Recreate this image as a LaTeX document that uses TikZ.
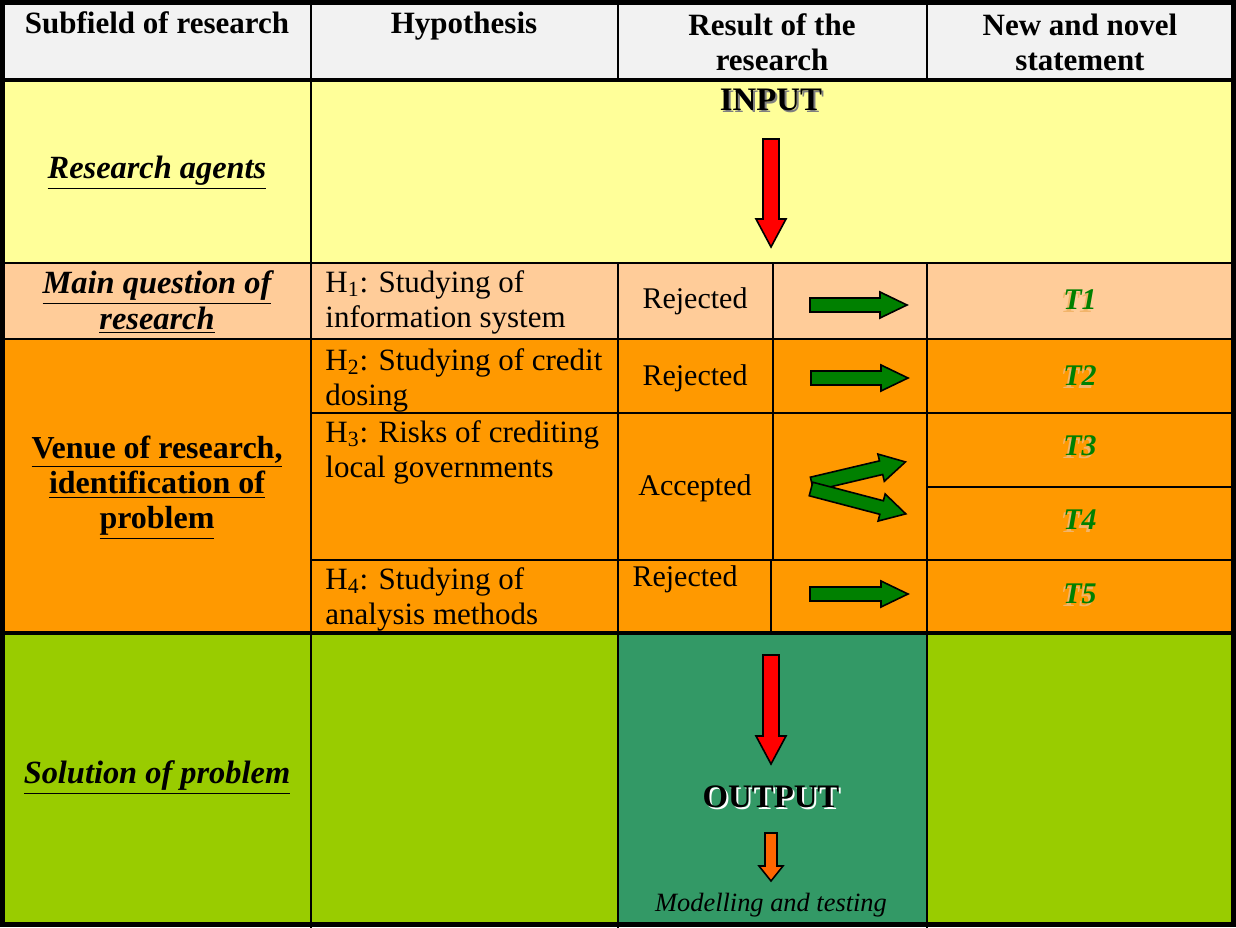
\documentclass[tikz,border=0pt]{standalone}
\usepackage{fontspec}
\setmainfont{Liberation Serif}
\usetikzlibrary{calc}

\definecolor{hdrgray}{HTML}{F2F2F2}
\definecolor{paleyellow}{HTML}{FFFF99}
\definecolor{peach}{HTML}{FFCC99}
\definecolor{amber}{HTML}{FF9900}
\definecolor{lime}{HTML}{99CC00}
\definecolor{seagreen}{HTML}{339966}
\definecolor{darkgreen}{HTML}{008000}
\definecolor{brightred}{HTML}{FF0000}
\definecolor{deeporange}{HTML}{FF6600}
\definecolor{tshade}{HTML}{F2B46A}

\newcommand\ul[1]{\underline{#1}}

\tikzset{
  gridline/.style={line width=1pt, line cap=rect},
  heavyline/.style={line width=2pt},
  headtext/.style={font=\fontsize{15.5}{17.5}\selectfont\bfseries, align=center, inner sep=0pt},
  bodytext/.style={font=\fontsize{15.5}{17.5}\selectfont, align=left, anchor=base west, inner sep=0pt},
  resulttext/.style={font=\fontsize{15}{17.5}\selectfont, inner sep=0pt},
  sidetext/.style={font=\fontsize{16.2}{18}\selectfont\bfseries\itshape, align=center, inner sep=0pt},
  venuetext/.style={font=\fontsize{16}{17.5}\selectfont\bfseries, align=center, inner sep=0pt},
  ttext/.style={font=\fontsize{15}{18}\selectfont\bfseries\itshape, text=darkgreen, inner sep=0pt},
  tshadowtext/.style={font=\fontsize{15}{18}\selectfont\bfseries\itshape, text=tshade, inner sep=0pt},
  bigtext/.style={font=\fontsize{16.4}{18}\selectfont\bfseries, inner sep=0pt},
  pics/blockarrow/.style n args={5}{code={
    % length, shaft half width, head half width, head length, fill
    \draw[fill=#5, line width=0.8pt, line join=miter]
      (0,-#2) -- ({#1-#4},-#2) -- ({#1-#4},-#3) -- (#1,0)
      -- ({#1-#4},#3) -- ({#1-#4},#2) -- (0,#2) -- cycle;
  }},
}

\begin{document}
\begin{tikzpicture}[x=0.5pt, y=-0.5pt]
  \useasboundingbox (0,0) rectangle (1236,927);

  % row backgrounds
  \fill[hdrgray]    (0,0)   rectangle (1236,80);
  \fill[paleyellow] (0,80)  rectangle (1236,263);
  \fill[peach]      (0,263) rectangle (1236,339);
  \fill[amber]      (0,339) rectangle (1236,633);
  \fill[lime]       (0,633) rectangle (1236,927);
  \fill[seagreen]   (618,633) rectangle (927,927);

  % inner grid
  \draw[gridline] (311,0) -- (311,927);
  \draw[gridline] (618,0) -- (618,80);
  \draw[gridline] (927,0) -- (927,80);
  \draw[gridline] (618,263) -- (618,927);
  \draw[gridline] (927,263) -- (927,927);
  \draw[gridline] (773,263) -- (773,560);
  \draw[gridline] (771,560) -- (771,633);
  \draw[gridline] (0,263) -- (1236,263);
  \draw[gridline] (0,339) -- (1236,339);
  \draw[gridline] (311,413) -- (1236,413);
  \draw[gridline] (927,487) -- (1236,487);
  \draw[gridline] (311,560) -- (1236,560);
  \draw[heavyline] (0,80) -- (1236,80);
  \draw[heavyline] (0,633) -- (1236,633);
  % outer frame
  \draw[line width=2.5pt] (2.5,2.5) rectangle (1233.5,924.5);

  % header (anchored at the baseline of the last line)
  \node[headtext, anchor=base] (hsub) at (157,33) {Subfield of research};
  \node[headtext, anchor=base] (hhyp) at (464,33) {Hypothesis};
  \node[headtext, anchor=base] (hres) at (772,70) {Result of the\\research};
  \node[headtext, anchor=base] (hnew) at (1080,70) {New and novel\\statement};

  % left column
  \node[sidetext] (agents) at (157,173) {\ul{Research agents}};
  \node[sidetext] (mainq) at (157,302) {\ul{Main question of}\\\ul{research}};
  \node[venuetext] (venue) at (157,488) {\ul{Venue of research,}\\\ul{identification of}\\\ul{problem}};
  \node[sidetext] (solution) at (157,778) {\ul{Solution of problem}};

  % hypotheses (anchored at the baseline of the second line)
  \node[bodytext] (h1) at (325,327) {H\textsubscript{1}: Studying of\\information system};
  \node[bodytext] (h2) at (325,405) {H\textsubscript{2}: Studying of credit\\dosing};
  \node[bodytext] (h3) at (325,477) {H\textsubscript{3}: Risks of crediting\\local governments};
  \node[bodytext] (h4) at (325,624) {H\textsubscript{4}: Studying of\\analysis methods};

  % results
  \node[resulttext] (r1) at (695,301) {Rejected};
  \node[resulttext] (r2) at (695,378) {Rejected};
  \node[resulttext] (r3) at (695,488) {Accepted};
  \node[resulttext] (r4) at (685,579) {Rejected};

  % statements
  \foreach \name/\lab/\yy in {t1/T1/300, t2/T2/376, t3/T3/446, t4/T4/520, t5/T5/594} {
    \node[tshadowtext] (\name s) at (1077.5,\yy+2.5) {\lab};
    \node[ttext] (\name) at (1080,\yy) {\lab};
  }

  % result arrows
  \pic at (810,305) {blockarrow={97}{7}{13}{27}{darkgreen}};
  \pic at (811,378) {blockarrow={97}{7}{13}{27}{darkgreen}};
  \pic at (810,594) {blockarrow={98}{7}{13}{27}{darkgreen}};
  \pic[rotate=13.3] at (812,484) {blockarrow={96}{7}{14}{25}{darkgreen}};
  \pic[rotate=-14.7] at (811,489) {blockarrow={98}{7}{14}{25}{darkgreen}};

  % input / output flow
  \node[bigtext, text=gray] (inputs) at (773,102) {INPUT};
  \node[bigtext] (input) at (771,100) {INPUT};
  \pic[rotate=-90] at (771,139) {blockarrow={108}{8}{15}{28}{brightred}};
  \pic[rotate=-90] at (771,655) {blockarrow={109}{8}{15}{28}{brightred}};
  \node[bigtext, text=white] (outputs) at (773,799) {OUTPUT};
  \node[bigtext] (output) at (771,797) {OUTPUT};
  \pic[rotate=-90] at (771,833) {blockarrow={48}{6}{12}{15}{deeporange}};
  \node[font=\fontsize{13.2}{16}\selectfont\itshape, inner sep=0pt] (model) at (771,905) {Modelling and testing};
\end{tikzpicture}
\end{document}
